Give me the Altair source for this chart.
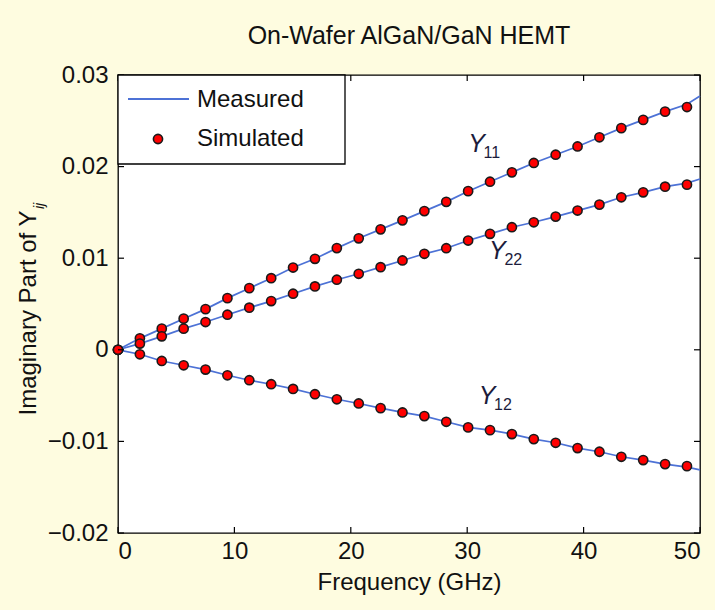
import altair as alt
import pandas as pd

# ---------------- data ----------------
freq_sim = [0.0, 1.88, 3.76, 5.64, 7.52, 9.40, 11.28, 13.16, 15.04, 16.92,
            18.80, 20.68, 22.56, 24.44, 26.32, 28.20, 30.08, 31.96, 33.84,
            35.72, 37.60, 39.48, 41.36, 43.24, 45.12, 47.00, 48.88]

y11_sim = [0.0, 0.00125, 0.00231, 0.00340, 0.00444, 0.00564, 0.00673, 0.00782,
           0.00898, 0.00993, 0.01110, 0.01217, 0.01315, 0.01413, 0.01514,
           0.01615, 0.01732, 0.01835, 0.01937, 0.02040, 0.02130, 0.02220,
           0.02320, 0.02420, 0.02510, 0.02600, 0.02650]
y22_sim = [0.0, 0.00068, 0.00147, 0.00231, 0.00303, 0.00383, 0.00460, 0.00532,
           0.00612, 0.00692, 0.00765, 0.00830, 0.00902, 0.00975, 0.01048,
           0.01109, 0.01193, 0.01266, 0.01338, 0.01392, 0.01454, 0.01520,
           0.01585, 0.01665, 0.01719, 0.01781, 0.01803]
y12_sim = [0.0, -0.00049, -0.00122, -0.00169, -0.00216, -0.00278, -0.00332,
           -0.00376, -0.00427, -0.00485, -0.00540, -0.00586, -0.00637,
           -0.00684, -0.00724, -0.00786, -0.00847, -0.00877, -0.00920,
           -0.00975, -0.01015, -0.01073, -0.01113, -0.01168, -0.01204,
           -0.01248, -0.01270]

freq_meas = freq_sim + [50.0]
y11_meas = y11_sim[:-1] + [0.02680, 0.02770]
y22_meas = y22_sim[:-1] + [0.01820, 0.01865]
y12_meas = y12_sim[:-1] + [-0.01280, -0.01310]

series_names = ["Y11", "Y22", "Y12"]

# curve annotations (data coordinates)
label_main = ["Y", "Y", "Y"]
label_sub = ["11", "22", "12"]
label_freq = [30.8, 32.6, 31.7]
label_val = [0.0225, 0.0108, -0.0050]

x_ticks = [0, 10, 20, 30, 40, 50]
y_ticks = [-0.02, -0.01, 0.0, 0.01, 0.02, 0.03]

title_text = "On-Wafer AlGaN/GaN HEMT"
x_title = "Frequency (GHz)"
y_title_main = "Imaginary Part of Y"
y_title_sub = "ij"
legend_labels = ["Measured", "Simulated"]

# ---------------- tables ----------------
meas_rows = []
for name, vals in zip(series_names, [y11_meas, y22_meas, y12_meas]):
    for f, v in zip(freq_meas, vals):
        meas_rows.append({"series": name, "freq": f, "val": v})
meas_df = pd.DataFrame(meas_rows)

sim_rows = []
for name, vals in zip(series_names, [y11_sim, y22_sim, y12_sim]):
    for f, v in zip(freq_sim, vals):
        sim_rows.append({"series": name, "freq": f, "val": v})
sim_df = pd.DataFrame(sim_rows)

lab_df = pd.DataFrame({"main": label_main, "sub": label_sub,
                       "freq": label_freq, "val": label_val})
xt_df = pd.DataFrame({"t": x_ticks})
yt_df = pd.DataFrame({"t": y_ticks})

W, H = 582, 458
FONT = "Liberation Sans"
FS = 24
LINE_COLOR = "#4d72d6"
TXT = "#111111"
DOT = 84

xs = alt.Scale(domain=[0, 50], nice=False, zero=False)
ys = alt.Scale(domain=[-0.02, 0.03], nice=False, zero=False)

X = alt.X("freq:Q", scale=xs,
          axis=alt.Axis(values=x_ticks, title=x_title, grid=False, ticks=False,
                        domain=False, labelFlush=True, labelPadding=6,
                        titlePadding=7, format="d"))
Y = alt.Y("val:Q", scale=ys,
          axis=alt.Axis(values=y_ticks, title=None, grid=False, ticks=False,
                        domain=False, labelPadding=10, format=".2~f"))

lines = alt.Chart(meas_df).mark_line(color=LINE_COLOR, strokeWidth=1.7).encode(
    x=X, y=Y, detail="series:N", order="freq:Q")

points = alt.Chart(sim_df).mark_point(
    shape="circle", filled=True, fill="#ff0000", stroke="#1a1a1a",
    strokeWidth=1.6, size=DOT, opacity=1).encode(
    x=alt.X("freq:Q", scale=xs), y=alt.Y("val:Q", scale=ys))

# inward ticks on all four sides
TL = 6
xb = alt.Chart(xt_df).mark_rule(color="black", strokeWidth=1.2).encode(
    x=alt.X("t:Q", scale=xs), y=alt.value(H), y2=alt.value(H - TL))
xtp = alt.Chart(xt_df).mark_rule(color="black", strokeWidth=1.2).encode(
    x=alt.X("t:Q", scale=xs), y=alt.value(0), y2=alt.value(TL))
yl = alt.Chart(yt_df).mark_rule(color="black", strokeWidth=1.2).encode(
    y=alt.Y("t:Q", scale=ys), x=alt.value(0), x2=alt.value(TL))
yr = alt.Chart(yt_df).mark_rule(color="black", strokeWidth=1.2).encode(
    y=alt.Y("t:Q", scale=ys), x=alt.value(W), x2=alt.value(W - TL))

# curve labels
lab_main = alt.Chart(lab_df).mark_text(
    font=FONT, fontSize=25, fontStyle="italic", color="#1c1c3c",
    align="center", baseline="middle").encode(
    x=alt.X("freq:Q", scale=xs), y=alt.Y("val:Q", scale=ys), text="main:N")
lab_sub = alt.Chart(lab_df).mark_text(
    font=FONT, fontSize=16, color="#1c1c3c", align="left",
    baseline="middle", dx=7, dy=9).encode(
    x=alt.X("freq:Q", scale=xs), y=alt.Y("val:Q", scale=ys), text="sub:N")

one = alt.Data(values=[{"k": 1}])

# y-axis title with subscript
yt_main = alt.Chart(one).mark_text(
    font=FONT, fontSize=FS, color=TXT, angle=270, align="center",
    baseline="middle").encode(
    x=alt.value(-89), y=alt.value(238), text=alt.value(y_title_main))
yt_sub = alt.Chart(one).mark_text(
    font=FONT, fontSize=14, fontStyle="italic", color=TXT, angle=270,
    align="left", baseline="middle").encode(
    x=alt.value(-78), y=alt.value(134), text=alt.value(y_title_sub))

# legend box
leg_box = alt.Chart(one).mark_rect(fill="white", stroke="black",
                                    strokeWidth=1.3).encode(
    x=alt.value(0), x2=alt.value(227), y=alt.value(0), y2=alt.value(89))
leg_line = alt.Chart(one).mark_rule(color=LINE_COLOR, strokeWidth=1.9).encode(
    x=alt.value(10), x2=alt.value(71), y=alt.value(24))
leg_dot = alt.Chart(one).mark_point(
    shape="circle", filled=True, fill="#ff0000", stroke="#1a1a1a",
    strokeWidth=1.6, size=DOT, opacity=1).encode(
    x=alt.value(40), y=alt.value(64))
leg_t1 = alt.Chart(one).mark_text(font=FONT, fontSize=FS, color=TXT,
                                  align="left", baseline="middle").encode(
    x=alt.value(79), y=alt.value(25), text=alt.value(legend_labels[0]))
leg_t2 = alt.Chart(one).mark_text(font=FONT, fontSize=FS, color=TXT,
                                  align="left", baseline="middle").encode(
    x=alt.value(79), y=alt.value(64), text=alt.value(legend_labels[1]))

chart = alt.layer(
    lines, points, xb, xtp, yl, yr, lab_main, lab_sub, yt_main, yt_sub,
    leg_box, leg_line, leg_dot, leg_t1, leg_t2
).properties(
    width=W, height=H,
    title=alt.TitleParams(title_text, font=FONT, fontSize=25,
                          fontWeight="normal", color=TXT, anchor="middle",
                          frame="group", offset=14),
    autosize=alt.AutoSizeParams(type="none"),
    padding={"left": 118, "top": 75, "right": 15, "bottom": 77},
    background="#fefce0",
).configure_view(
    stroke="black", strokeWidth=1.3, fill="white"
).configure_axis(
    labelFont=FONT, titleFont=FONT, labelFontSize=FS, titleFontSize=FS,
    labelColor=TXT, titleColor=TXT, titleFontWeight="normal"
)

chart.save("out.html", embed_options={"renderer": "svg", "actions": False})
